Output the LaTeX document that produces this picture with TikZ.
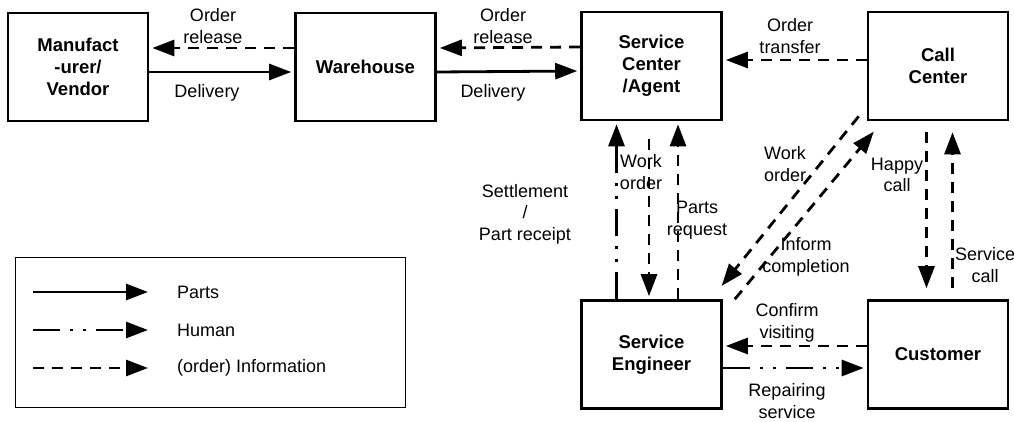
\documentclass[tikz,border=0pt]{standalone}
\usepackage{fontspec}
\setmainfont{Liberation Sans}
\usetikzlibrary{arrows.meta}

\begin{document}
\begin{tikzpicture}[x=1pt,y=1pt]
\tikzstyle{every node}+=[inner sep=0pt]
\tikzstyle{box}=[draw, black, line width=2.6pt, minimum width=140pt, minimum height=108pt, align=center, font=\bfseries\fontsize{18.5}{22}\selectfont]
\tikzstyle{lbl}=[align=center, font=\fontsize{18}{21.5}\selectfont]
\tikzstyle{parts}=[black, line width=2.8pt, shorten >=3pt, -{Triangle[length=22pt,width=16pt]}]
\tikzstyle{human}=[parts, dash pattern=on 27pt off 10pt on 3pt off 10pt on 3pt off 10pt]
\tikzstyle{info}=[parts, dash pattern=on 11pt off 8pt]
\useasboundingbox (0,0) rectangle (1014,-422);
% boxes
\node [box] (mfr) at (78,-67) {Manufact\\-urer/\\Vendor};
\node [box] (wh) at (365.5,-67) {Warehouse};
\node [box] (sc) at (651.5,-66) {Service\\Center\\/Agent};
\node [box] (cc) at (938,-66) {Call\\Center};
\node [box] (se) at (651.5,-354.5) {Service\\Engineer};
\node [box] (cust) at (938,-354.5) {Customer};
% top row
\draw [info] ([yshift=19pt]wh.west) -- ([yshift=19pt]mfr.east);
\draw [parts] ([yshift=-5pt]mfr.east) -- ([yshift=-5pt]wh.west);
\draw [info] ([yshift=19pt]sc.west) -- ([yshift=19pt]wh.east);
\draw [parts] ([yshift=-5pt]wh.east) -- ([yshift=-5pt]sc.west);
\draw [info] ([yshift=6pt]cc.west) -- ([yshift=6pt]sc.east);
\node [lbl] (rel1) at (213,-26) {Order\\release};
\node [lbl] (del1) at (207,-93) {Delivery};
\node [lbl] (rel2) at (503,-26) {Order\\release};
\node [lbl] (del2) at (493,-93) {Delivery};
\node [lbl] (trf) at (790,-36) {Order\\transfer};
% service center <-> engineer
\draw [human] ([xshift=-35pt]se.north) -- ([xshift=-35pt]sc.south);
\draw [info, shorten <=18pt] ([xshift=-2.5pt]sc.south) -- ([xshift=-2.5pt]se.north);
\draw [info] ([xshift=26.5pt]se.north) -- ([xshift=26.5pt]sc.south);
\node [lbl] (wo1) at (641,-172) {Work\\order};
\node [lbl] (preq) at (697,-220) {Parts\\request};
\node [lbl] (setl) at (525,-214) {Settlement\\/\\Part receipt};
% call center <-> engineer
\draw [info] ([shift={(-8pt,5pt)}]cc.south west) -- ([shift={(-3pt,11pt)}]se.north east);
\draw [info] ([shift={(12pt,0pt)}]se.north east) -- ([shift={(9pt,-8pt)}]cc.south west);
\node [lbl] (wo2) at (785,-164) {Work\\order};
\node [lbl] (inf) at (806,-257) {Inform\\completion};
% call center <-> customer
\draw [info, shorten <=11pt, shorten >=11pt] ([xshift=-11.5pt]cc.south) -- ([xshift=-11.5pt]cust.north);
\draw [info, shorten <=11pt, shorten >=11pt] ([xshift=14.5pt]cust.north) -- ([xshift=14.5pt]cc.south);
\node [lbl] (hap) at (897,-175) {Happy\\call};
\node [lbl] (svc) at (985,-265) {Service\\call};
% engineer <-> customer
\draw [info] ([yshift=8.5pt]cust.west) -- ([yshift=8.5pt]se.east);
\draw [human] ([yshift=-13.5pt]se.east) -- ([yshift=-13.5pt]cust.west);
\node [lbl] (conf) at (787,-323) {Confirm\\visiting};
\node [lbl] (rep) at (787,-401) {Repairing\\service};
% legend
\node [draw, black, line width=1.2pt, minimum width=390pt, minimum height=150pt] (lgd) at (210.5,-332.5) {};
\node [lbl, anchor=west] (lp) at (177,-292) {Parts};
\node [lbl, anchor=west] (lh) at (177,-330) {Human};
\node [lbl, anchor=west] (li) at (177,-368) {(order) Information};
\draw [parts] ([xshift=-144pt]lp.west) -- ([xshift=-26pt]lp.west);
\draw [human] ([xshift=-144pt]lh.west) -- ([xshift=-26pt]lh.west);
\draw [info] ([xshift=-144pt]li.west) -- ([xshift=-26pt]li.west);
\end{tikzpicture}
\end{document}
